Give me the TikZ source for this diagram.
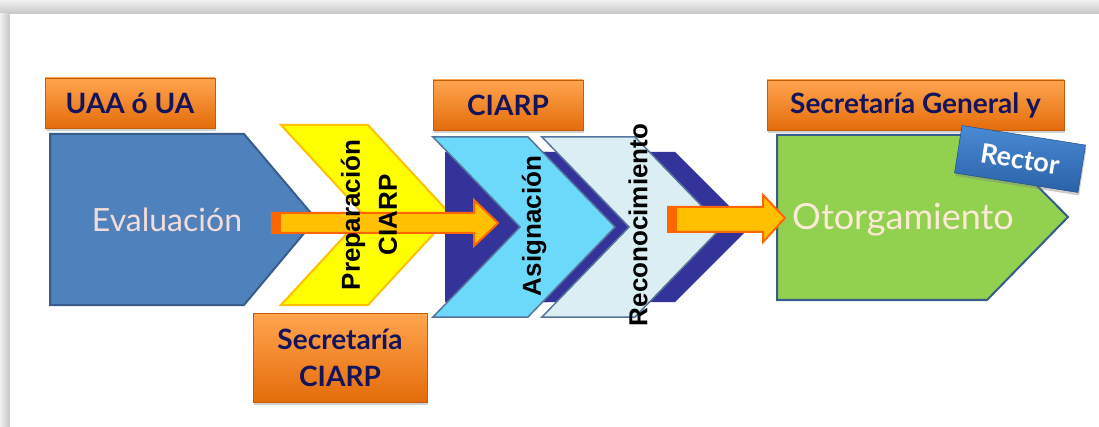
\documentclass[tikz,border=0pt]{standalone}
\usepackage{fontspec}
\setmainfont{Lato}
\newfontfamily\arialfont{Liberation Sans}
\usetikzlibrary{shadows}
\definecolor{evalblue}{HTML}{4F81BD}
\definecolor{edgeblue}{HTML}{385D8A}
\definecolor{chevyellow}{HTML}{FFFF00}
\definecolor{chevgold}{HTML}{FFC000}
\definecolor{asigblue}{HTML}{6DD9FA}
\definecolor{reconblue}{HTML}{DAEEF3}
\definecolor{navy}{HTML}{333399}
\definecolor{otorggreen}{HTML}{92D050}
\definecolor{boxtop}{HTML}{FFA54F}
\definecolor{boxbottom}{HTML}{E46C0A}
\definecolor{boxtext}{HTML}{14145C}
\definecolor{arrowfill}{HTML}{FFC000}
\definecolor{arrowedge}{HTML}{FF6600}
\definecolor{rectortop}{HTML}{4A8AD4}
\definecolor{rectorbottom}{HTML}{2A62A8}
\definecolor{evaltext}{HTML}{F2DCDB}
\definecolor{otorgtext}{HTML}{FBEAD6}
\tikzset{%
  whobox/.style = {rectangle, top color=boxtop, bottom color=boxbottom,
        draw=boxbottom!85!black, line width=0.5pt, text=boxtext,
        font=\fontsize{28}{37}\selectfont\bfseries, align=center, inner sep=0pt,
        drop shadow={opacity=0.35, shadow xshift=1pt, shadow yshift=-3pt}},
  rectorbox/.style = {rectangle, top color=rectortop, bottom color=rectorbottom,
        draw=rectorbottom!80!black, line width=0.5pt, text=white,
        font=\fontsize{27}{30}\selectfont\bfseries, inner sep=0pt,
        drop shadow={opacity=0.4, shadow xshift=1pt, shadow yshift=-3pt}},
  stepshape/.style = {line width=2pt, line join=miter},
  steplabel/.style = {rotate=90, font=\arialfont\fontsize{26}{37}\selectfont\bfseries,
        align=center, inner sep=0pt},
  blockarrow/.style = {fill=arrowfill, draw=arrowedge, line width=2pt, line join=miter}
}
\begin{document}
\begin{tikzpicture}[x=1pt, y=-1pt]
  \useasboundingbox (0,0) rectangle (1099,427);
  % frame
  \fill[gray!30] (0,0) rectangle (1099,427);
  \shade[top color=gray!12, bottom color=gray!45] (0,0) rectangle (1099,14);
  \shade[left color=gray!12, right color=gray!45] (0,14) rectangle (10,427);
  \fill[white] (10,14) rectangle (1099,427);

  % who does each step
  \node[whobox, minimum width=170pt, minimum height=50pt] (uaa) at (130,103) {UAA ó UA};
  \node[whobox, minimum width=150pt, minimum height=50pt] (ciarp) at (508,105) {CIARP};
  \node[whobox, minimum width=297pt, minimum height=50pt] (secgen) at (915.5,105) {Secretaría General y};

  % steps
  \draw[stepshape, fill=evalblue, draw=edgeblue] (50,134) -- (244,134) -- (316,219)
        -- (244,305) -- (50,305) -- cycle;
  \draw[stepshape, fill=chevyellow, draw=chevgold] (281,125) -- (368,125) -- (451,215)
        -- (368,305) -- (281,305) -- (364,215) -- cycle;
  \fill[navy] (540,152) -- (675,152) -- (750,227) -- (675,302) -- (540,302) -- cycle;
  \fill[navy] (445,152) -- (548,152) -- (636,227) -- (548,302) -- (445,302) -- cycle;
  \draw[stepshape, line width=1.5pt, fill=asigblue, draw=edgeblue!85] (433,137) -- (528,137)
        -- (615,227) -- (528,317) -- (433,317) -- (520,227) -- cycle;
  \draw[stepshape, line width=1.5pt, fill=reconblue, draw=edgeblue!85] (542,137) -- (635,137)
        -- (722,227) -- (635,317) -- (542,317) -- (629,227) -- cycle;
  \draw[stepshape, fill=otorggreen, draw=edgeblue] (777,135) -- (987,135) -- (1068,217)
        -- (987,300) -- (777,300) -- cycle;

  % arrows
  \draw[blockarrow] (272,213) -- (474,213) -- (474,200) -- (498,223) -- (474,246)
        -- (474,233) -- (272,233) -- cycle;
  \fill[arrowedge] (272,213) rectangle (281,233);
  \draw[blockarrow] (668,207) -- (763,207) -- (763,195) -- (785,218) -- (763,242)
        -- (763,232) -- (668,232) -- cycle;
  \fill[arrowedge] (668,207) rectangle (677,232);

  \node[rectorbox, rotate=-9, minimum width=125pt, minimum height=48pt] (rector)
        at (1020,159) {Rector};

  % labels
  \node[font=\fontsize{32}{36}\selectfont, text=evaltext] (eval) at (167,220) {Evaluación};
  \node[steplabel] (prep) at (369,215) {Preparación\\CIARP};
  \node[steplabel] (asig) at (534,226) {Asignación};
  \node[steplabel] (recon) at (638,225) {Reconocimiento};
  \node[font=\fontsize{36}{40}\selectfont, text=otorgtext] (otorg) at (903,220) {Otorgamiento};

  \node[whobox, minimum width=174pt, minimum height=89pt] (secciarp) at (340,357.5)
        {Secretaría\\CIARP};
\end{tikzpicture}
\end{document}
